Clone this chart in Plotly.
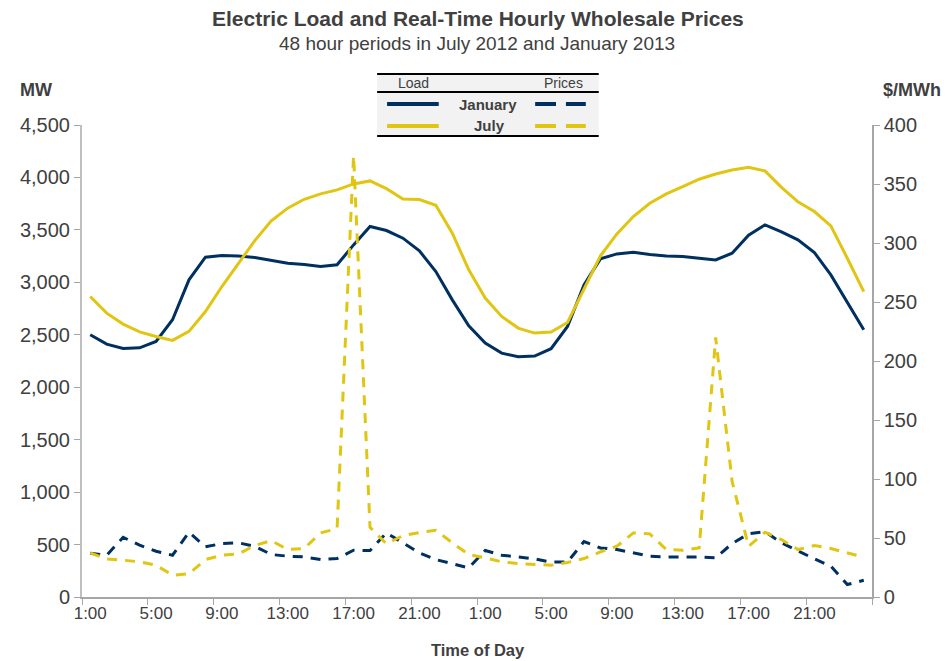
import plotly.graph_objects as go

# ---- data ----
hours = list(range(48))  # hourly periods, 1:00 day 1 .. 24:00 day 2

january_load = [2500, 2411, 2370, 2376, 2436, 2643, 3024, 3240, 3255, 3252, 3236, 3208,
                3183, 3170, 3150, 3167, 3357, 3532, 3494, 3421, 3300, 3103, 2833, 2585,
                2421, 2325, 2290, 2297, 2367, 2579, 2976, 3224, 3271, 3287, 3265, 3252,
                3246, 3230, 3214, 3278, 3449, 3548, 3481, 3405, 3284, 3071, 2808, 2548]

july_load = [2865, 2706, 2602, 2528, 2484, 2446, 2532, 2722, 2960, 3183, 3398, 3586,
             3707, 3792, 3843, 3881, 3938, 3967, 3893, 3795, 3789, 3735, 3468, 3119,
             2850, 2675, 2564, 2516, 2526, 2617, 2929, 3252, 3462, 3627, 3754, 3843,
             3913, 3983, 4033, 4071, 4097, 4062, 3906, 3767, 3675, 3538, 3230, 2912]

january_price = [37.1, 35.4, 50.6, 43.9, 38.8, 35.4, 54.9, 42.5, 45.3, 45.9, 43.0, 36.0,
                 34.6, 34.0, 31.7, 32.6, 39.6, 39.4, 54.3, 45.9, 37.4, 31.7, 28.1, 24.7,
                 39.4, 35.4, 34.0, 32.3, 29.6, 29.6, 47.0, 41.6, 40.2, 37.4, 34.6, 34.0,
                 34.3, 34.0, 33.2, 45.3, 53.5, 55.4, 45.9, 38.8, 32.3, 26.1, 10.6, 14.2]

july_price = [37.4, 32.3, 31.2, 29.8, 26.9, 18.5, 19.6, 31.7, 35.4, 36.5, 43.6, 47.8,
              40.2, 41.1, 54.3, 58.0, 374.0, 59.0, 45.0, 52.1, 54.6, 56.6, 45.9, 36.0,
              33.2, 29.8, 28.4, 27.5, 26.9, 29.2, 32.6, 38.2, 43.0, 54.3, 53.5, 40.2,
              39.6, 41.6, 220.0, 98.0, 43.0, 54.9, 48.7, 40.2, 43.6, 41.1, 37.7, 33.7]

tick_positions = [0, 4, 8, 12, 16, 20, 24, 28, 32, 36, 40, 44]
tick_labels = ["1:00", "5:00", "9:00", "13:00", "17:00", "21:00",
               "1:00", "5:00", "9:00", "13:00", "17:00", "21:00"]

# ---- styles ----
NAVY = "#003060"
YELLOW = "#e0c512"
TEXT = "#404040"
AXIS = "#a6a6a6"
FONT = "Liberation Sans, Arial, sans-serif"

OFF = 8  # default page body margin
W, H = 949 - OFF, 661 - OFF
# plot area in page pixels
L, R, T, B = 77, 872, 125, 597.5


def px(x):
    return (x - L) / (R - L)


def py(y):
    return (B - y) / (B - T)


fig = go.Figure()
fig.add_trace(go.Scatter(x=hours, y=january_load, mode="lines", name="January load",
                         line=dict(color=NAVY, width=3)))
fig.add_trace(go.Scatter(x=hours, y=july_load, mode="lines", name="July load",
                         line=dict(color=YELLOW, width=3)))
fig.add_trace(go.Scatter(x=hours, y=january_price, mode="lines", name="January prices",
                         yaxis="y2", line=dict(color=NAVY, width=3, dash="10px,8px")))
fig.add_trace(go.Scatter(x=hours, y=july_price, mode="lines", name="July prices",
                         yaxis="y2", line=dict(color=YELLOW, width=3, dash="10px,8px")))

fig.update_layout(
    width=W, height=H,
    margin=dict(l=L - OFF, r=OFF + W - R, t=T - OFF, b=OFF + H - B, pad=0),
    paper_bgcolor="white", plot_bgcolor="white",
    showlegend=False,
    font=dict(family=FONT, color=TEXT),
    xaxis=dict(range=[-0.5, 47.5], tickmode="array", tickvals=tick_positions,
               ticktext=tick_labels, ticks="", showgrid=False, zeroline=False,
               showline=True, linecolor=AXIS, linewidth=1.5,
               tickfont=dict(size=17, color=TEXT, family=FONT),
               minor=dict(tick0=-0.5, dtick=4, ticks="outside", ticklen=6,
                          tickcolor=AXIS, tickwidth=1, showgrid=False)),
    yaxis=dict(range=[0, 4500], dtick=500, tickformat=",", showgrid=False,
               zeroline=False, showline=True, linecolor="#bfbfbf", linewidth=2,
               ticks="outside", ticklen=6, tickcolor=AXIS,
               tickfont=dict(size=20, color=TEXT, family=FONT)),
    yaxis2=dict(range=[0, 400], dtick=50, overlaying="y", side="right",
                showgrid=False, zeroline=False, showline=True, linecolor=AXIS,
                linewidth=1.5, ticks="outside", ticklen=6, tickcolor=AXIS,
                tickfont=dict(size=20, color=TEXT, family=FONT)),
)

ann = []


def text(x, y, s, size, bold=False, xanchor="center"):
    ann.append(dict(x=px(x), y=py(y), xref="paper", yref="paper", text=f"<b>{s}</b>" if bold else s,
                    showarrow=False, xanchor=xanchor, yanchor="middle",
                    font=dict(size=size, color=TEXT, family=FONT)))


text(476, 18, "Electric Load and Real-Time Hourly Wholesale Prices", 21, bold=True)
text(474, 43, "48 hour periods in July 2012 and January 2013", 19)
text(31, 90, "MW", 18, bold=True)
text(912, 90, "$/MWh", 18, bold=True)
text(476, 651, "Time of Day", 16.5, bold=True)

# legend table
text(411, 83, "Load", 14)
text(562, 83, "Prices", 14)
text(486, 104, "January", 15, bold=True)
text(487, 126, "July", 15, bold=True)

shapes = [
    dict(type="rect", xref="paper", yref="paper", x0=px(374), x1=px(597), y0=py(74), y1=py(136),
         fillcolor="#f2f2f2", line=dict(width=0), layer="below"),
    dict(type="line", xref="paper", yref="paper", x0=px(374), x1=px(597), y0=py(74), y1=py(74),
         line=dict(color="black", width=2)),
    dict(type="line", xref="paper", yref="paper", x0=px(374), x1=px(597), y0=py(92), y1=py(92),
         line=dict(color="black", width=2)),
    dict(type="line", xref="paper", yref="paper", x0=px(374), x1=px(597), y0=py(136), y1=py(136),
         line=dict(color="black", width=2)),
    dict(type="line", xref="paper", yref="paper", x0=px(384), x1=px(436), y0=py(104), y1=py(104),
         line=dict(color=NAVY, width=4)),
    dict(type="line", xref="paper", yref="paper", x0=px(384), x1=px(436), y0=py(126), y1=py(126),
         line=dict(color=YELLOW, width=4)),
]
for yy, col in [(104, NAVY), (126, YELLOW)]:
    for a, b in [(533, 554), (564, 584)]:
        shapes.append(dict(type="line", xref="paper", yref="paper", x0=px(a), x1=px(b),
                           y0=py(yy), y1=py(yy), line=dict(color=col, width=4)))

fig.update_layout(annotations=ann, shapes=shapes)
fig.write_html("out.html")
